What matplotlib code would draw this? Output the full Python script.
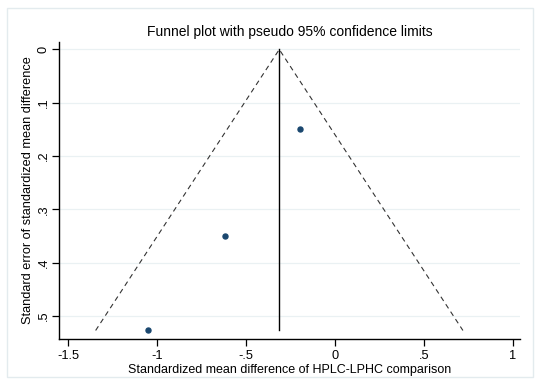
import matplotlib
matplotlib.use("Agg")
import matplotlib.pyplot as plt
from matplotlib.patches import Rectangle

# Data
smd = [-1.052, -0.619, -0.199]          # standardized mean difference
se = [0.527, 0.349, 0.150]              # standard error
pooled = -0.313                          # pooled (fixed) estimate
se_max = 0.527
z = 1.96
xticks = [-1.5, -1, -0.5, 0, 0.5, 1]
xticklabels = ["-1.5", "-1", "-.5", "0", ".5", "1"]
yticks = [0, 0.1, 0.2, 0.3, 0.4, 0.5]
yticklabels = ["0", ".1", ".2", ".3", ".4", ".5"]

plt.rcParams['font.family'] = ['Liberation Sans', 'DejaVu Sans']

W, H = 536, 386
fig = plt.figure(figsize=(W / 100, H / 100), dpi=100)
fig.patch.set_facecolor('white')
fig.add_artist(Rectangle((7 / W, 1 - 377 / H), (533 - 7) / W, (377 - 8) / H,
                         transform=fig.transFigure, fill=False,
                         edgecolor='#e3ebee', linewidth=1.0))

ax = fig.add_axes([59 / W, 1 - 339 / H, (520 - 59) / W, (339 - 42) / H])
ax.set_facecolor('white')
ax.set_xlim(-1.552, 1.041)
ax.set_ylim(0.543, -0.014)

for y in yticks:
    ax.axhline(y, color='#eaf1f3', linewidth=0.9, zorder=0)

# funnel limits
ax.plot([pooled - z * se_max, pooled, pooled + z * se_max], [se_max, 0, se_max],
        linestyle=(0, (4.5, 3.5)), color='#333333', linewidth=0.8, zorder=2)
# pooled estimate line
ax.plot([pooled, pooled], [0, se_max], color='black', linewidth=1.0, zorder=2)
# studies
ax.plot(smd, se, linestyle='none', marker='o', markersize=3.6,
        color='#1a476f', zorder=3)

ax.set_xticks(xticks)
ax.set_xticklabels(xticklabels)
ax.set_yticks(yticks)
ax.set_yticklabels(yticklabels, rotation=90, va='center')
ax.tick_params(axis='both', direction='out', length=5, width=0.9,
               labelsize=9.2, colors='black')
ax.tick_params(axis='x', pad=3)
ax.tick_params(axis='y', pad=1.5)
for s in ['top', 'right']:
    ax.spines[s].set_visible(False)
for s in ['left', 'bottom']:
    ax.spines[s].set_linewidth(1.0)
    ax.spines[s].set_color('black')

ax.set_xlabel("Standardized mean difference of HPLC-LPHC comparison",
              fontsize=9.0, labelpad=1.5)
ax.set_ylabel("Standard error of standardized mean difference",
              fontsize=9.2, labelpad=2.5)
ax.set_title("Funnel plot with pseudo 95% confidence limits",
             fontsize=10.0, pad=4)

fig.savefig("out.png", dpi=100)
